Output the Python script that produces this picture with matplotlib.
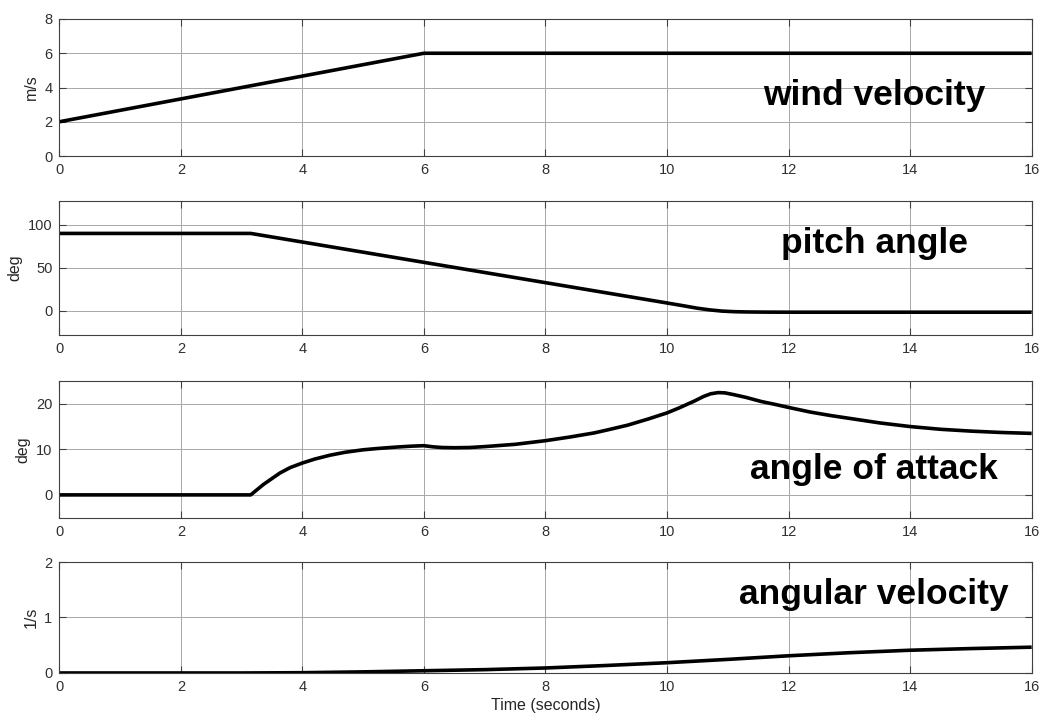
import matplotlib
matplotlib.use("Agg")
import matplotlib.pyplot as plt

plt.rcParams['font.family'] = ['Liberation Sans', 'DejaVu Sans']

# wind velocity (m/s)
t_wind = [0, 6, 16]
wind = [2, 6, 6]

# pitch angle (deg)
t_pitch = [0, 3.15, 4, 5, 6, 7, 8, 9, 10, 10.3, 10.5, 10.7, 10.9, 11.1, 11.3,
           11.6, 12, 16]
pitch = [90, 90, 80, 68.2, 56.4, 44.6, 32.8, 21.0, 9.2, 5.6, 3.1, 1.2, -0.2,
         -0.9, -1.2, -1.4, -1.5, -1.5]

# angle of attack (deg)
t_aoa = [0, 3.15, 3.25, 3.36, 3.5, 3.63, 3.8, 4.0, 4.2, 4.45, 4.7, 5.0, 5.25,
         5.55, 5.8, 6.0, 6.15, 6.3, 6.5, 6.75, 7.0, 7.5, 8.0, 8.4, 8.8, 9.0,
         9.35, 9.7, 10.0, 10.2, 10.45, 10.6, 10.72, 10.84, 10.95, 11.1, 11.3,
         11.55, 11.8, 12.0, 12.35, 12.7, 13.0, 13.5, 14.0, 14.5, 15.0, 15.5, 16]
aoa = [0, 0, 1.1, 2.3, 3.6, 4.8, 6.0, 7.0, 7.85, 8.7, 9.35, 9.9, 10.2,
       10.5, 10.7, 10.8, 10.55, 10.4, 10.35, 10.4, 10.6, 11.1, 11.9, 12.7, 13.6, 14.2,
       15.3, 16.7, 18.0, 19.1, 20.6, 21.6, 22.2, 22.45, 22.4, 22.0, 21.4,
       20.5, 19.8, 19.2, 18.2, 17.4, 16.8, 15.8, 15.0, 14.4, 14.0, 13.7, 13.5]

# angular velocity (1/s)
t_omega = [0, 3, 4, 5, 6, 7, 8, 9, 10, 11, 12, 13, 14, 15, 16]
omega = [0, 0, 0.005, 0.02, 0.04, 0.06, 0.09, 0.135, 0.185, 0.245, 0.31, 0.365,
         0.41, 0.44, 0.465]

panels = [
    (t_wind, wind, "m/s", (0, 8), [0, 2, 4, 6, 8], "wind velocity", 0.445),
    (t_pitch, pitch, "deg", (-28, 128), [0, 50, 100], "pitch angle", 0.685),
    (t_aoa, aoa, "deg", (-5, 25), [0, 10, 20], "angle of attack", 0.349),
    (t_omega, omega, "1/s", (0, 2), [0, 1, 2], "angular velocity", 0.71),
]

# axes rectangles in figure fractions (left, bottom, width, height)
rects = [
    (0.0569, 0.7839, 0.9332, 0.1898),
    (0.0569, 0.5360, 0.9332, 0.1860),
    (0.0569, 0.2830, 0.9332, 0.1893),
    (0.0569, 0.0679, 0.9332, 0.1537),
]

fig = plt.figure(figsize=(10.42, 7.22), dpi=100)
fig.patch.set_facecolor('white')
edge = '#404040'

for (t, y, ylab, ylim, yticks, title, ty), rect in zip(panels, rects):
    ax = fig.add_axes(rect)
    ax.plot(t, y, color='black', lw=2.6, solid_joinstyle='round',
            solid_capstyle='butt')
    ax.set_xlim(0, 16)
    ax.set_ylim(*ylim)
    ax.set_xticks(range(0, 17, 2))
    ax.set_yticks(yticks)
    ax.grid(True, color='#a8a8a8', lw=0.7)
    ax.set_axisbelow(True)
    ax.tick_params(direction='in', length=5, width=0.8, colors=edge,
                   labelcolor='#303030', labelsize=10.5,
                   top=True, right=True, pad=5)
    for s in ax.spines.values():
        s.set_color(edge)
        s.set_linewidth(0.8)
    ax.set_ylabel(ylab, fontsize=11.5, color='#262626', labelpad=4)
    ax.text(0.838, ty, title, transform=ax.transAxes, ha='center', va='center',
            fontsize=25.5, fontweight='bold', color='black')

ax.set_xlabel("Time (seconds)", fontsize=11.5, color='#262626', labelpad=3)

fig.savefig("out.png", dpi=100)
